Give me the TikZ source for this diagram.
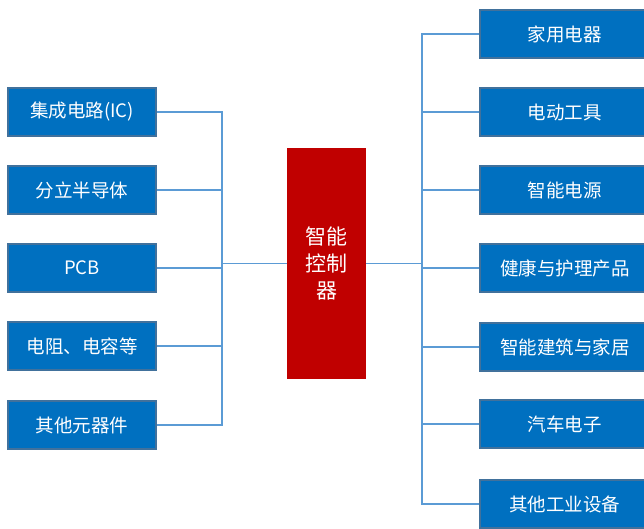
\documentclass[tikz,border=0pt]{standalone}
\usepackage{fontspec}
\setmainfont{Noto Sans CJK SC}
\definecolor{boxblue}{HTML}{0070C0}
\definecolor{boxedge}{HTML}{41719C}
\definecolor{linkblue}{HTML}{5B9BD5}
\definecolor{corered}{HTML}{C00000}
\begin{document}
\begin{tikzpicture}[x=1pt,y=-1pt,
  item/.style={draw=boxedge,line width=1.5pt,fill=boxblue,text=white,minimum height=48pt,inner sep=0pt,font=\fontsize{18.5}{22}\selectfont},
  leftitem/.style={item,minimum width=148pt},
  rightitem/.style={item,minimum width=170pt,anchor=west},
  link/.style={draw=linkblue,line width=1.2pt},
  mainlink/.style={draw=linkblue,line width=1.8pt},
  core/.style={fill=corered,text=white,minimum width=79pt,minimum height=231pt,inner sep=0pt,align=center,font=\fontsize{21}{27}\selectfont}]
\useasboundingbox (0,0) rectangle (644,529);
% left items
\node[leftitem] (l1) at (82,112) {集成电路(IC)};
\node[leftitem] (l2) at (82,190) {分立半导体};
\node[leftitem] (l3) at (82,268) {PCB};
\node[leftitem] (l4) at (82,346) {电阻、电容等};
\node[leftitem] (l5) at (82,425) {其他元器件};
% core
\node[core] (c) at (326.5,263.5) {智能\\控制\\器};
% right items
\node[rightitem] (r1) at (479,34) {家用电器};
\node[rightitem] (r2) at (479,112) {电动工具};
\node[rightitem] (r3) at (479,190) {智能电源};
\node[rightitem] (r4) at (479,268) {健康与护理产品};
\node[rightitem] (r5) at (479,347) {智能建筑与家居};
\node[rightitem] (r6) at (479,424) {汽车电子};
\node[rightitem] (r7) at (479,504) {其他工业设备};
% junctions
\coordinate (lj) at (222,263.5);
\coordinate (rj) at (422,263.5);
% left links
\foreach \n in {l1,l2,l3,l4,l5}
  \draw[link] (\n.east) -| (lj);
\draw[mainlink] (lj) -- (c.west);
% right links
\foreach \n in {r1,r2,r3,r4,r5,r6,r7}
  \draw[link] (\n.west) -| (rj);
\draw[mainlink] (c.east) -- (rj);
\end{tikzpicture}
\end{document}
